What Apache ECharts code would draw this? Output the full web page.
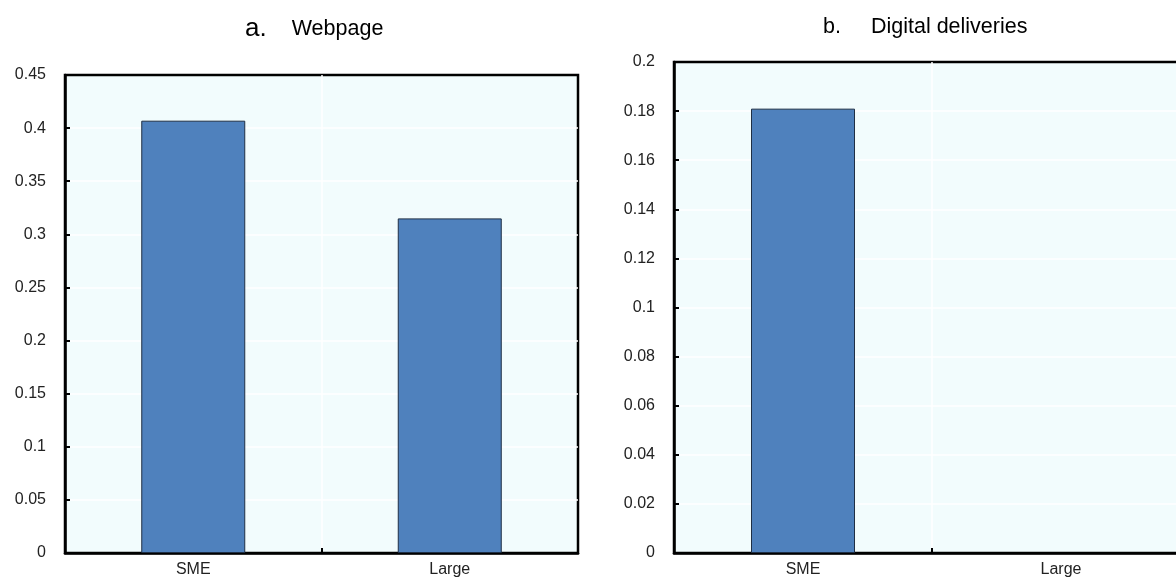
<!DOCTYPE html>
<html>
<head>
<meta charset="utf-8">
<script src="https://cdn.jsdelivr.net/npm/echarts@6/dist/echarts.min.js"></script>
<style>
  html, body { margin: 0; padding: 0; background: #fff; }
  #chart { width: 1176px; height: 577px; }
</style>
</head>
<body>
<div id="chart"></div>
<script>
// chart data
const categories = ['SME', 'Large'];
const webpageValues = [0.407, 0.315];
const deliveryValues = [0.181, null];
const webpageAxis = { min: 0, max: 0.45, interval: 0.05 };
const deliveryAxis = { min: 0, max: 0.2, interval: 0.02 };

const FONT = '"Liberation Sans", Arial, sans-serif';
const plotBg = '#F2FCFD';
const barColor = '#4F81BD';

function makeX(gridIndex) {
  return {
    type: 'category',
    gridIndex: gridIndex,
    data: categories,
    axisLine: { lineStyle: { color: '#000', width: 2.5 } },
    axisTick: { show: true, inside: true, length: 5, lineStyle: { color: '#000', width: 2 } },
    axisLabel: { color: '#222', fontFamily: FONT, fontSize: 16, margin: 9 },
    splitLine: { show: true, showMinLine: false, showMaxLine: false,
      lineStyle: { color: '#fff', width: 1.5 } }
  };
}

function makeY(gridIndex, range) {
  return {
    type: 'value',
    gridIndex: gridIndex,
    min: range.min,
    max: range.max,
    interval: range.interval,
    axisLine: { show: true, lineStyle: { color: '#000', width: 2.5 } },
    axisTick: { show: true, inside: true, length: 5, lineStyle: { color: '#000', width: 2 } },
    axisLabel: { color: '#222', fontFamily: FONT, fontSize: 16, margin: 19,
      formatter: v => String(+v.toFixed(3)) },
    splitLine: { show: true, showMinLine: false, showMaxLine: false,
      lineStyle: { color: '#fff', width: 1.5 } }
  };
}

function makeBar(index, values) {
  return {
    type: 'bar',
    xAxisIndex: index,
    yAxisIndex: index,
    data: values,
    barWidth: 104,
    itemStyle: { color: barColor, borderColor: '#1F2F45', borderWidth: 1 }
  };
}

const chart = echarts.init(document.getElementById('chart'));
chart.setOption({
  animation: false,
  title: [
    {
      text: '{n|a.}     {t|Webpage}',
      left: 240, top: 11,
      textStyle: {
        rich: {
          n: { fontFamily: FONT, fontSize: 26, fontWeight: 'normal', color: '#000' },
          t: { fontFamily: FONT, fontSize: 21.5, fontWeight: 'normal', color: '#000' }
        }
      }
    },
    {
      text: '{n|b.}      {t|Digital deliveries}',
      left: 818, top: 11,
      textStyle: {
        rich: {
          n: { fontFamily: FONT, fontSize: 21.5, fontWeight: 'normal', color: '#000' },
          t: { fontFamily: FONT, fontSize: 21.5, fontWeight: 'normal', color: '#000' }
        }
      }
    }
  ],
  grid: [
    { left: 65, top: 75, width: 513, height: 478, show: true, outerBoundsMode: 'none',
      backgroundColor: plotBg, borderColor: '#000', borderWidth: 2.5 },
    { left: 674, top: 62, width: 516, height: 491, show: true, outerBoundsMode: 'none',
      backgroundColor: plotBg, borderColor: '#000', borderWidth: 2.5 }
  ],
  xAxis: [makeX(0), makeX(1)],
  yAxis: [makeY(0, webpageAxis), makeY(1, deliveryAxis)],
  series: [makeBar(0, webpageValues), makeBar(1, deliveryValues)]
});
</script>
</body>
</html>
